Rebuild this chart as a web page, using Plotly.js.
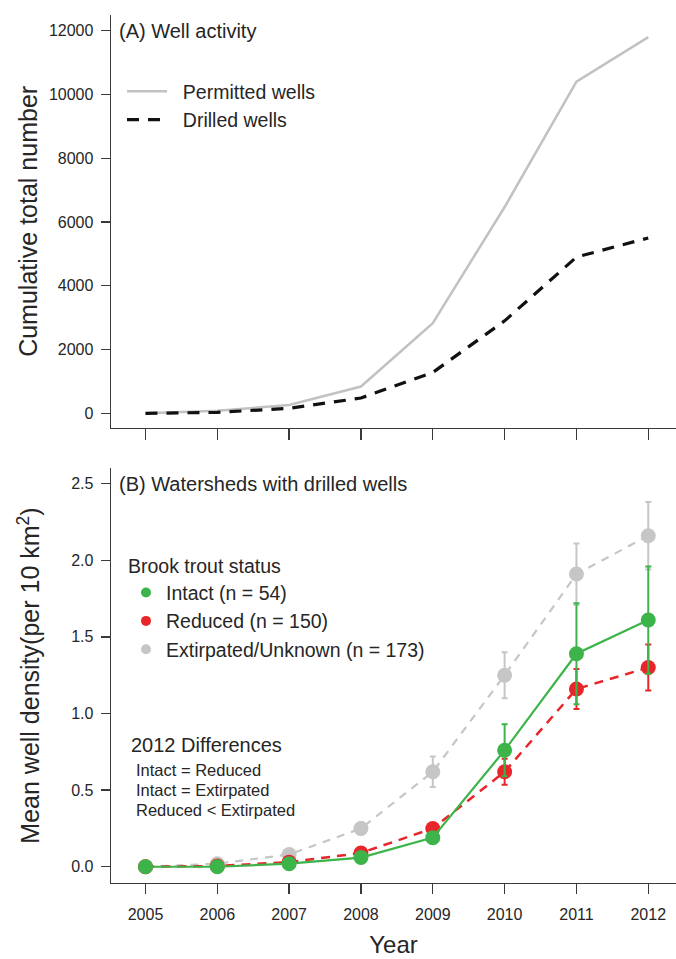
<!DOCTYPE html>
<html>
<head>
<meta charset="utf-8">
<script src="https://cdn.plot.ly/plotly-3.0.1.min.js"></script>
<style>html,body{margin:0;padding:0;background:#fff;}#chart{width:676px;height:959px;}</style>
</head>
<body>
<div id="chart"></div>
<script>
// ---- data ----
const years = [2005, 2006, 2007, 2008, 2009, 2010, 2011, 2012];
const permittedWells = [0, 80, 260, 840, 2830, 6470, 10400, 11800];
const drilledWells = [0, 30, 155, 480, 1280, 2900, 4900, 5500];

const intactMean = [0, 0, 0.02, 0.06, 0.19, 0.76, 1.39, 1.61];
const intactErr = [0, 0, 0.005, 0.01, 0.02, 0.17, 0.33, 0.35];
const reducedMean = [0, 0.005, 0.03, 0.09, 0.25, 0.62, 1.16, 1.30];
const reducedErr = [0, 0, 0.01, 0.02, 0.03, 0.085, 0.13, 0.15];
const extirpMean = [0, 0.02, 0.08, 0.25, 0.62, 1.25, 1.91, 2.16];
const extirpErr = [0, 0.005, 0.02, 0.04, 0.10, 0.15, 0.20, 0.22];

const yTicksA = [0, 2000, 4000, 6000, 8000, 10000, 12000];
const yTickTextA = ['0', '2000', '4000', '6000', '8000', '10000', '12000'];
const yTicksB = [0, 0.5, 1.0, 1.5, 2.0, 2.5];
const yTickTextB = ['0.0', '0.5', '1.0', '1.5', '2.0', '2.5'];
const xTickText = ['2005', '2006', '2007', '2008', '2009', '2010', '2011', '2012'];

const legendNames = ['Intact (n = 54)', 'Reduced (n = 150)', 'Extirpated/Unknown (n = 173)'];
const diffLines = ['Intact = Reduced', 'Intact = Extirpated', 'Reduced < Extirpated'];

// ---- style ----
const FONT = '"Liberation Sans", Arial, Helvetica, sans-serif';
const TXT = '#262626';
const GREEN = '#3db449';
const RED = '#e8262a';
const GREY = '#c6c6c6';
const W = 676, H = 959, ML = 111, MR = 0, MT = 15, MB = 76;
const PW = W - ML - MR, PH = H - MT - MB;
const px = x => (x - ML) / PW;
const py = y => (H - MB - y) / PH;

const traces = [
  {x: years, y: permittedWells, type: 'scatter', mode: 'lines', name: '\u00A0\u00A0Permitted wells',
   line: {color: '#c2c2c2', width: 2.5}, xaxis: 'x', yaxis: 'y', legend: 'legend'},
  {x: years, y: drilledWells, type: 'scatter', mode: 'lines', name: '\u00A0\u00A0Drilled wells',
   line: {color: '#111', width: 3.2, dash: '12px,9px'}, xaxis: 'x', yaxis: 'y', legend: 'legend'},

  {x: years, y: extirpMean, type: 'scatter', mode: 'lines+markers', showlegend: false,
   line: {color: GREY, width: 2.2, dash: '8px,7px'}, marker: {color: GREY, size: 15},
   error_y: {type: 'data', array: extirpErr, color: GREY, thickness: 2, width: 3},
   xaxis: 'x2', yaxis: 'y2'},
  {x: years, y: reducedMean, type: 'scatter', mode: 'lines+markers', showlegend: false,
   line: {color: RED, width: 2.5, dash: '9px,7px'}, marker: {color: RED, size: 15},
   error_y: {type: 'data', array: reducedErr, color: RED, thickness: 2, width: 3},
   xaxis: 'x2', yaxis: 'y2'},
  {x: years, y: intactMean, type: 'scatter', mode: 'lines+markers', showlegend: false,
   line: {color: GREEN, width: 2.2}, marker: {color: GREEN, size: 15},
   error_y: {type: 'data', array: intactErr, color: GREEN, thickness: 2, width: 3},
   xaxis: 'x2', yaxis: 'y2'},

  {x: [null], y: [null], type: 'scatter', mode: 'markers', name: legendNames[0],
   marker: {color: GREEN, size: 10}, xaxis: 'x2', yaxis: 'y2', legend: 'legend2'},
  {x: [null], y: [null], type: 'scatter', mode: 'markers', name: legendNames[1],
   marker: {color: RED, size: 10}, xaxis: 'x2', yaxis: 'y2', legend: 'legend2'},
  {x: [null], y: [null], type: 'scatter', mode: 'markers', name: legendNames[2],
   marker: {color: GREY, size: 10}, xaxis: 'x2', yaxis: 'y2', legend: 'legend2'}
];

const xRange = [2004.52, 2012.386];
const axisCommon = {
  showgrid: false, zeroline: false, showline: true, linecolor: '#3a3a3a', linewidth: 1.4,
  ticks: 'outside', tickcolor: '#3a3a3a', tickwidth: 1.4,
  tickfont: {family: FONT, size: 16, color: TXT}
};

const annotations = [
  {text: '(A) Well activity', x: px(117), y: py(31), size: 20},
  {text: '(B) Watersheds with drilled wells', x: px(117), y: py(484), size: 20},
  {text: '2012 Differences', x: px(129), y: py(745), size: 20},
  {text: diffLines[0], x: px(134), y: py(770), size: 16.5},
  {text: diffLines[1], x: px(134), y: py(790), size: 16.5},
  {text: diffLines[2], x: px(134), y: py(810), size: 16.5}
].map(a => ({text: a.text, x: a.x, y: a.y, xref: 'paper', yref: 'paper', xanchor: 'left', yanchor: 'middle',
  showarrow: false, font: {family: FONT, size: a.size, color: TXT}}));

const layout = {
  width: W, height: H,
  margin: {l: ML, r: MR, t: MT, b: MB},
  paper_bgcolor: '#fff', plot_bgcolor: '#fff',
  font: {family: FONT, color: TXT},
  xaxis: Object.assign({}, axisCommon, {domain: [0, 1], range: xRange, anchor: 'y',
    tickmode: 'array', tickvals: years, showticklabels: false, ticklen: 11}),
  yaxis: Object.assign({}, axisCommon, {domain: [0.5245, 1], range: [-452, 12492], anchor: 'x',
    tickmode: 'array', tickvals: yTicksA, ticktext: yTickTextA, ticklen: 9, ticklabelstandoff: 4,
    title: {text: 'Cumulative total number', font: {family: FONT, size: 25, color: TXT}, standoff: 4}}),
  xaxis2: Object.assign({}, axisCommon, {domain: [0, 1], range: xRange, anchor: 'y2',
    tickmode: 'array', tickvals: years, ticktext: xTickText, ticklen: 10, ticklabelstandoff: 6,
    title: {text: 'Year', font: {family: FONT, size: 24, color: TXT}, standoff: 14}}),
  yaxis2: Object.assign({}, axisCommon, {domain: [0, 0.4781], range: [-0.106, 2.602], anchor: 'x2',
    tickmode: 'array', tickvals: yTicksB, ticktext: yTickTextB, ticklen: 9, ticklabelstandoff: 4,
    title: {text: 'Mean well density(per 10 km<sup>2</sup>)', font: {family: FONT, size: 25, color: TXT}, standoff: 24}}),
  legend: {x: px(122), y: py(72), xanchor: 'left', yanchor: 'top', bgcolor: 'rgba(0,0,0,0)',
    itemwidth: 40, font: {family: FONT, size: 19.5, color: TXT}},
  legend2: {x: px(126), y: py(548), xanchor: 'left', yanchor: 'top', bgcolor: 'rgba(0,0,0,0)',
    itemwidth: 30, font: {family: FONT, size: 19.5, color: TXT},
    title: {text: 'Brook trout status', side: 'top', font: {family: FONT, size: 19.5, color: TXT}}},
  annotations: annotations,
  showlegend: true
};

Plotly.newPlot('chart', traces, layout, {staticPlot: true, displayModeBar: false});
</script>
</body>
</html>
